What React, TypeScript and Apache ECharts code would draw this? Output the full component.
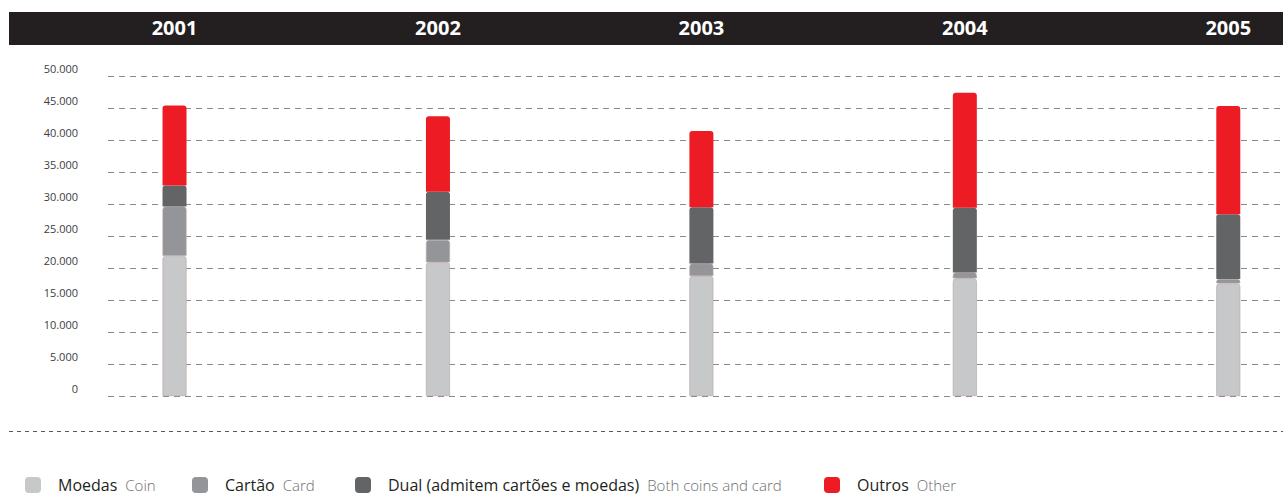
import React, { useEffect, useRef } from "react";
import * as echarts from "echarts";

const years = ["2001", "2002", "2003", "2004", "2005"];
const moedas = [21900, 20900, 18750, 18400, 17600];
const cartao = [7700, 3500, 1950, 900, 700];
const dual = [3300, 7500, 8800, 10100, 10100];
const outros = [12500, 11800, 11900, 18000, 16900];

const seriesNames = ["Moedas", "Cartão", "Dual (admitem cartões e moedas)", "Outros"];
const seriesSubs = ["Coin", "Card", "Both coins and card", "Other"];
const seriesColors = ["#c7c8ca", "#939598", "#636466", "#ed1c24"];

const FONT = "'Open Sans', 'Noto Sans', sans-serif";
const CHART_W = 1360;

function fmt(v: number): string {
  if (v === 0) return "0";
  return Math.round(v / 1000) + ".000";
}

export default function App() {
  const ref = useRef<HTMLDivElement>(null);
  useEffect(() => {
    const chart = echarts.init(ref.current!, null, { renderer: "svg" });
    const values = [moedas, cartao, dual, outros];
    const legendLefts = [25, 192, 355, 824];
    const legends = seriesNames.map((name, i) => ({
      data: [name],
      left: legendLefts[i],
      top: 477,
      padding: 0,
      icon: "roundRect",
      itemWidth: 16,
      itemHeight: 16,
      selectedMode: false,
      itemStyle: { borderWidth: 0 },
      formatter: () => `{a|${name}}{b|${seriesSubs[i]}}`,
      textStyle: {
        rich: {
          a: { fontFamily: FONT, fontSize: 16, color: "#231f20", padding: [0, 0, 0, 12] },
          b: { fontFamily: FONT, fontSize: 15, fontWeight: 300, color: "#6d6e71", padding: [0, 0, 0, 8] },
        },
      },
    }));
    const series = seriesNames.map((name, i) => ({
      name,
      type: "bar",
      stack: "total",
      xAxisIndex: 1,
      yAxisIndex: 1,
      barWidth: 24,
      data: values[i],
      itemStyle: {
        color: seriesColors[i],
        borderRadius: [3, 3, 0, 0],
        borderColor: i < 2 ? "#b9a3a5" : seriesColors[i],
        borderWidth: i < 2 ? 0.6 : 0,
      },
    }));
    const option: any = {
      animation: false,
      backgroundColor: "#ffffff",
      textStyle: { fontFamily: FONT },
      graphic: [
        {
          type: "rect",
          z: -10,
          shape: { x: 9, y: 12, width: 1274, height: 33 },
          style: { fill: "#231f20" },
        },
        {
          type: "line",
          shape: { x1: 9, y1: 431.5, x2: 1283, y2: 431.5 },
          style: { stroke: "#58595b", lineWidth: 1, lineDash: [4, 4] },
        },
      ],
      legend: legends,
      grid: [
        { left: 108, right: CHART_W - 1283, top: 76, bottom: 100 },
        { left: 42.8, width: 1317.2, top: 76, bottom: 100 },
      ],
      xAxis: [
        { type: "value", gridIndex: 0, show: false, min: 0, max: 1 },
        {
          type: "category",
          gridIndex: 1,
          data: years,
          position: "top",
          z: 10,
          axisLine: { show: false },
          axisTick: { show: false },
          splitLine: { show: false },
          axisLabel: {
            color: "#ffffff",
            fontFamily: FONT,
            fontWeight: "bold",
            fontSize: 20,
            verticalAlign: "middle",
            margin: 49,
          },
        },
      ],
      yAxis: [
        {
          type: "value",
          gridIndex: 0,
          min: 0,
          max: 50000,
          interval: 5000,
          axisLine: { show: false },
          axisTick: { show: false },
          splitLine: { show: true, lineStyle: { color: "#8a8a8c", width: 1, type: [6, 5] } },
          axisLabel: {
            formatter: fmt,
            color: "#3d3d3f",
            fontFamily: FONT,
            fontSize: 11,
            margin: 30,
            verticalAlign: "bottom",
            padding: [0, 0, 2, 0],
          },
        },
        { type: "value", gridIndex: 1, min: 0, max: 50000, show: false, splitLine: { show: false } },
      ],
      series,
    };
    chart.setOption(option);
    return () => chart.dispose();
  }, []);
  return (
    <div
      style={{ position: "absolute", left: 0, top: 0, width: 1283, height: 496, overflow: "hidden" }}
    >
      <div ref={ref} style={{ width: CHART_W, height: 496 }} />
    </div>
  );
}
